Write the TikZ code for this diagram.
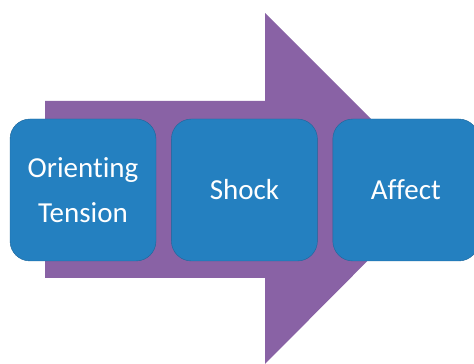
\documentclass[tikz,border=0pt]{standalone}
\usepackage{fontspec}
\setmainfont{Carlito}[Ligatures=NoCommon]
\usetikzlibrary{positioning}

\definecolor{stagepurple}{RGB}{137,98,165}
\definecolor{stageblue}{RGB}{36,128,192}

\begin{document}
\begin{tikzpicture}[x=1pt,y=1pt,node distance=15pt,
  stage node/.style={fill=stageblue,draw=stageblue!80!black,line width=0.4pt,rounded corners=20pt,
    minimum width=146pt,minimum height=142pt,text=white,align=center,
    font=\fontsize{29}{45}\selectfont}]

  \useasboundingbox (0,0) rectangle (474,364);

  % big arrow behind the stages
  \fill[stagepurple] (45,263) -- (265,263) -- (265,351) -- (440,176)
    -- (265,0) -- (265,86) -- (45,86) -- cycle;

  \node[stage node] (orient) at (83,174) {Orienting\\Tension};
  \node[stage node] (shock) [right=of orient] {Shock};
  \node[stage node] (affect) [right=of shock] {Affect};

\end{tikzpicture}
\end{document}
